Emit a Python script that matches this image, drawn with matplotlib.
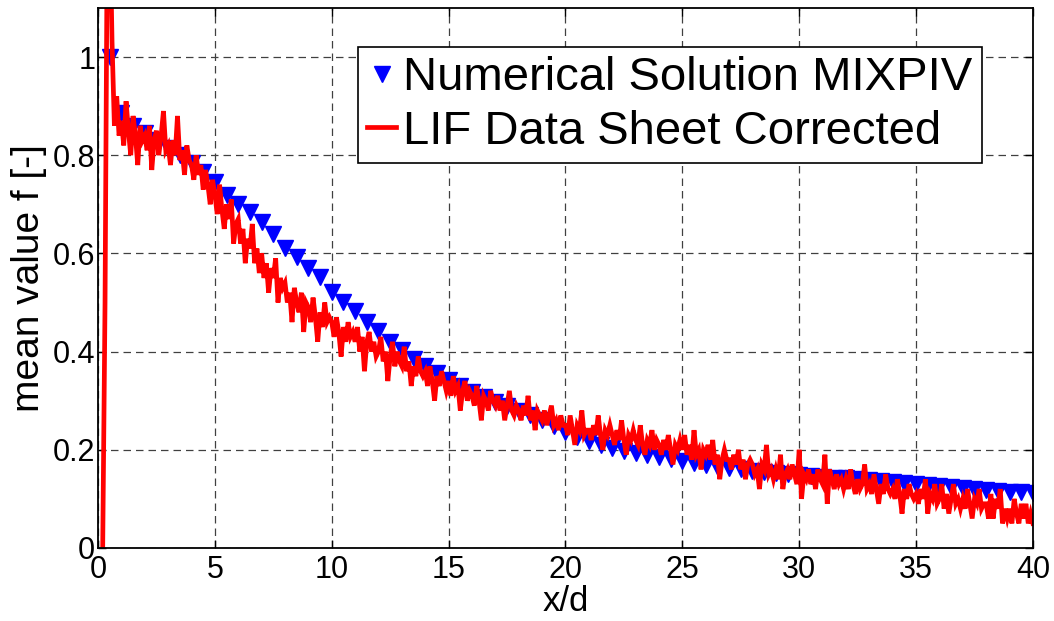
import numpy as np
import matplotlib
matplotlib.use("Agg")
import matplotlib.pyplot as plt

plt.rcParams['font.family'] = ['Liberation Sans', 'DejaVu Sans']

# ---- data ----
x_label = "x/d"
y_label = "mean value f [-]"
label_num = "Numerical Solution MIXPIV"
label_lif = "LIF Data Sheet Corrected"

num_x_start, num_x_step = 0.5, 0.5
num_y = [1.0, 0.885, 0.86, 0.845, 0.83, 0.815, 0.80, 0.785, 0.765, 0.745,
         0.72, 0.70, 0.685, 0.665, 0.64, 0.612, 0.592, 0.571, 0.551, 0.522,
         0.502, 0.482, 0.461, 0.441, 0.42, 0.404, 0.384, 0.37, 0.357, 0.343,
         0.33, 0.318, 0.308, 0.298, 0.289, 0.28, 0.27, 0.26, 0.248, 0.237,
         0.227, 0.218, 0.21, 0.203, 0.198, 0.193, 0.189, 0.186, 0.182, 0.178,
         0.174, 0.17, 0.166, 0.162, 0.16, 0.157, 0.155, 0.152, 0.15, 0.148,
         0.147, 0.145, 0.143, 0.142, 0.14, 0.138, 0.136, 0.134, 0.132, 0.13,
         0.128, 0.126, 0.124, 0.122, 0.12, 0.118, 0.117, 0.115, 0.114, 0.112]

lif_x_start, lif_x_step = 0.2, 0.1
lif_y = [0.0, 0.5, 1.3, 1.3, 1.03, 0.86, 0.92, 0.84,
         0.87, 0.82, 0.91, 0.85, 0.80, 0.88, 0.84, 0.78, 0.86, 0.83,
         0.84, 0.81, 0.86, 0.77, 0.83, 0.85, 0.80, 0.84, 0.89, 0.81,
         0.82, 0.78, 0.83, 0.80, 0.88, 0.79, 0.81, 0.76, 0.82, 0.79,
         0.78, 0.75, 0.80, 0.76, 0.78, 0.73, 0.77, 0.74, 0.70, 0.75,
         0.72, 0.68, 0.74, 0.69, 0.65, 0.70, 0.67, 0.71, 0.62, 0.66,
         0.67, 0.62, 0.65, 0.58, 0.63, 0.61, 0.66, 0.58, 0.61, 0.56,
         0.60, 0.55, 0.58, 0.52, 0.57, 0.55, 0.59, 0.50, 0.55, 0.53,
         0.54, 0.50, 0.52, 0.46, 0.53, 0.50, 0.48, 0.52, 0.44, 0.50,
         0.49, 0.46, 0.51, 0.47, 0.42, 0.48, 0.45, 0.50, 0.46, 0.47,
         0.46, 0.43, 0.47, 0.44, 0.39, 0.45, 0.42, 0.46, 0.43, 0.44,
         0.42, 0.45, 0.40, 0.43, 0.36, 0.42, 0.44, 0.40, 0.42, 0.39,
         0.40, 0.43, 0.38, 0.40, 0.34, 0.39, 0.42, 0.37, 0.40, 0.38,
         0.37, 0.41, 0.36, 0.38, 0.33, 0.37, 0.35, 0.39, 0.36, 0.35,
         0.36, 0.33, 0.37, 0.34, 0.30, 0.35, 0.33, 0.36, 0.34, 0.32,
         0.34, 0.31, 0.35, 0.32, 0.33, 0.28, 0.32, 0.34, 0.30, 0.32,
         0.31, 0.29, 0.33, 0.30, 0.26, 0.31, 0.30, 0.28, 0.32, 0.30,
         0.29, 0.31, 0.28, 0.30, 0.26, 0.29, 0.32, 0.28, 0.27, 0.29,
         0.28, 0.26, 0.29, 0.27, 0.31, 0.26, 0.28, 0.24, 0.28, 0.27,
         0.26, 0.28, 0.25, 0.27, 0.29, 0.25, 0.26, 0.24, 0.27, 0.25,
         0.25, 0.23, 0.27, 0.24, 0.21, 0.25, 0.24, 0.28, 0.23, 0.24,
         0.24, 0.22, 0.25, 0.23, 0.27, 0.23, 0.20, 0.24, 0.23, 0.25,
         0.23, 0.21, 0.24, 0.22, 0.26, 0.22, 0.19, 0.23, 0.22, 0.24,
         0.22, 0.21, 0.25, 0.21, 0.19, 0.22, 0.21, 0.24, 0.20, 0.22,
         0.21, 0.19, 0.22, 0.20, 0.23, 0.20, 0.17, 0.21, 0.20, 0.22,
         0.20, 0.23, 0.19, 0.21, 0.18, 0.24, 0.19, 0.20, 0.16, 0.20,
         0.19, 0.21, 0.18, 0.22, 0.17, 0.19, 0.14, 0.18, 0.20, 0.18,
         0.18, 0.16, 0.19, 0.17, 0.20, 0.16, 0.18, 0.14, 0.17, 0.18,
         0.17, 0.15, 0.16, 0.12, 0.17, 0.16, 0.21, 0.15, 0.16, 0.14,
         0.16, 0.14, 0.19, 0.12, 0.15, 0.16, 0.14, 0.17, 0.15, 0.13,
         0.20, 0.10, 0.15, 0.14, 0.16, 0.13, 0.15, 0.12, 0.16, 0.14,
         0.13, 0.19, 0.09, 0.16, 0.14, 0.12, 0.15, 0.13, 0.14, 0.12,
         0.14, 0.12, 0.16, 0.13, 0.11, 0.14, 0.12, 0.13, 0.17, 0.12,
         0.13, 0.11, 0.15, 0.12, 0.09, 0.13, 0.11, 0.15, 0.12, 0.11,
         0.12, 0.10, 0.14, 0.11, 0.07, 0.12, 0.10, 0.13, 0.11, 0.10,
         0.11, 0.09, 0.12, 0.10, 0.14, 0.07, 0.11, 0.10, 0.13, 0.09,
         0.10, 0.13, 0.08, 0.11, 0.07, 0.10, 0.13, 0.09, 0.10, 0.08,
         0.10, 0.08, 0.12, 0.09, 0.06, 0.10, 0.09, 0.12, 0.08, 0.09,
         0.09, 0.06, 0.11, 0.06, 0.10, 0.08, 0.12, 0.05, 0.08, 0.06,
         0.08, 0.05, 0.10, 0.07, 0.05, 0.09, 0.06, 0.09, 0.05, 0.07,
         0.05]

x_ticks = [0, 5, 10, 15, 20, 25, 30, 35, 40]
x_tick_labels = ["0", "5", "10", "15", "20", "25", "30", "35", "40"]
y_ticks = [0, 0.2, 0.4, 0.6, 0.8, 1.0]
y_tick_labels = ["0", "0.2", "0.4", "0.6", "0.8", "1"]

# ---- plot ----
num_x = num_x_start + num_x_step * np.arange(len(num_y))
lif_x = lif_x_start + lif_x_step * np.arange(len(lif_y))

fig = plt.figure(figsize=(10.54, 6.21), dpi=100)
ax = fig.add_axes([0.093, 0.1176, 0.887, 0.8696])

ax.plot(num_x, num_y, linestyle='none', marker='v', ms=11, color='#0000ff',
        mec='#0000ff', label=label_num, zorder=3)
ax.plot(lif_x, lif_y, color='#ff0000', lw=3.4, label=label_lif, zorder=4,
        solid_joinstyle='miter')

ax.set_xlim(0, 40)
ax.set_ylim(0, 1.1)
ax.set_xticks(x_ticks)
ax.set_xticklabels(x_tick_labels)
ax.set_yticks(y_ticks)
ax.set_yticklabels(y_tick_labels)
ax.tick_params(direction='in', top=True, right=True, length=6, width=1,
               labelsize=22)
ax.tick_params(axis='y', pad=2)
ax.tick_params(axis='x', pad=5)
ax.grid(True, color='0.25', linestyle=(0, (6, 4)), linewidth=0.9)
ax.set_axisbelow(True)
for s in ax.spines.values():
    s.set_linewidth(1.3)
    s.set_zorder(5)

ax.set_xlabel(x_label, fontsize=25, labelpad=0)
ax.set_ylabel(y_label, fontsize=28, labelpad=4)

leg = ax.legend(loc='upper right', bbox_to_anchor=(0.945, 0.928),
                borderaxespad=0, fontsize=34, handlelength=0.6,
                handletextpad=0.15, borderpad=0.2, labelspacing=0.2,
                fancybox=False, framealpha=1, edgecolor='black')
leg.get_frame().set_linewidth(1.2)

fig.savefig("out.png", dpi=100)
